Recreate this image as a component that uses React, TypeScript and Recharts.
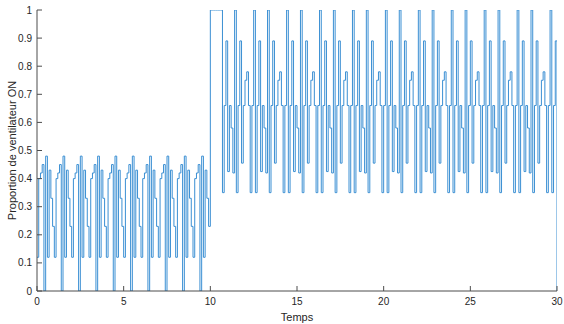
import React from 'react';
import { LineChart, Line, XAxis, YAxis } from 'recharts';

// Sampling step of the signal (time units)
const DT = 0.1;

const xTicks = [0, 5, 10, 15, 20, 25, 30];
const yTicks = [0, 0.1, 0.2, 0.3, 0.4, 0.5, 0.6, 0.7, 0.8, 0.9, 1];
const yTickLabels = ['0', '0.1', '0.2', '0.3', '0.4', '0.5', '0.6', '0.7', '0.8', '0.9', '1'];

// t = 0 .. 9.9 (period of 1)
const phase1Values = [
  0.12, 0.4, 0.42, 0.45, 0, 0.48, 0.12, 0.43, 0.33, 0.23,
  0.12, 0.4, 0.42, 0.45, 0, 0.48, 0.12, 0.43, 0.33, 0.23,
  0.12, 0.4, 0.42, 0.45, 0, 0.48, 0.12, 0.43, 0.33, 0.23,
  0.12, 0.4, 0.42, 0.45, 0, 0.48, 0.12, 0.43, 0.33, 0.23,
  0.12, 0.4, 0.42, 0.45, 0, 0.48, 0.12, 0.43, 0.33, 0.23,
  0.12, 0.4, 0.42, 0.45, 0, 0.48, 0.12, 0.43, 0.33, 0.23,
  0.12, 0.4, 0.42, 0.45, 0, 0.48, 0.12, 0.43, 0.33, 0.23,
  0.12, 0.4, 0.42, 0.45, 0, 0.48, 0.12, 0.43, 0.33, 0.23,
  0.12, 0.4, 0.42, 0.45, 0, 0.48, 0.12, 0.43, 0.33, 0.23,
  0.12, 0.4, 0.42, 0.45, 0, 0.48, 0.12, 0.43, 0.33, 0.23,
];

// t = 10 .. 29.9 (period of 1.9)
const phase2Values = [
  1, 1, 1, 1, 1, 1, 1, 0.35, 0.66, 0.89, 0.425, 0.66, 0.58, 0.42,
  1, 0.35, 0.66, 0.89, 0.455, 0.66, 0.75, 0.78, 0.66, 0.35, 0.66, 1, 0.35, 0.66, 0.89, 0.425, 0.66, 0.58, 0.42,
  1, 0.35, 0.66, 0.89, 0.455, 0.66, 0.75, 0.78, 0.66, 0.35, 0.66, 1, 0.35, 0.66, 0.89, 0.425, 0.66, 0.58, 0.42,
  1, 0.35, 0.66, 0.89, 0.455, 0.66, 0.75, 0.78, 0.66, 0.35, 0.66, 1, 0.35, 0.66, 0.89, 0.425, 0.66, 0.58, 0.42,
  1, 0.35, 0.66, 0.89, 0.455, 0.66, 0.75, 0.78, 0.66, 0.35, 0.66, 1, 0.35, 0.66, 0.89, 0.425, 0.66, 0.58, 0.42,
  1, 0.35, 0.66, 0.89, 0.455, 0.66, 0.75, 0.78, 0.66, 0.35, 0.66, 1, 0.35, 0.66, 0.89, 0.425, 0.66, 0.58, 0.42,
  1, 0.35, 0.66, 0.89, 0.455, 0.66, 0.75, 0.78, 0.66, 0.35, 0.66, 1, 0.35, 0.66, 0.89, 0.425, 0.66, 0.58, 0.42,
  1, 0.35, 0.66, 0.89, 0.455, 0.66, 0.75, 0.78, 0.66, 0.35, 0.66, 1, 0.35, 0.66, 0.89, 0.425, 0.66, 0.58, 0.42,
  1, 0.35, 0.66, 0.89, 0.455, 0.66, 0.75, 0.78, 0.66, 0.35, 0.66, 1, 0.35, 0.66, 0.89, 0.425, 0.66, 0.58, 0.42,
  1, 0.35, 0.66, 0.89, 0.455, 0.66, 0.75, 0.78, 0.66, 0.35, 0.66, 1, 0.35, 0.66, 0.89, 0.425, 0.66, 0.58, 0.42,
  1, 0.35, 0.66, 0.89, 0.455, 0.66, 0.75, 0.78, 0.66, 0.35, 0.66, 1, 0.35, 0.66, 0.89,
];

const endTime = 30;
const endValue = 0;

const data = [...phase1Values, ...phase2Values].map((v, i) => ({
  t: Math.round(i * DT * 10) / 10,
  v,
}));
data.push({ t: endTime, v: endValue });

const AXIS = '#4d4d4d';
const TEXT = '#262626';
const FONT = '"Liberation Sans", Arial, Helvetica, sans-serif';
const LINE = '#3a8fd3';

const BottomTick = (props: any) => {
  const { x, y, payload } = props;
  return (
    <g>
      <line x1={x} x2={x} y1={y} y2={y - 5} stroke={AXIS} strokeWidth={1} />
      <text x={x} y={y + 14} textAnchor="middle" fontSize={10} fill={TEXT} fontFamily={FONT}>
        {payload.value}
      </text>
    </g>
  );
};

const TopTick = (props: any) => {
  const { x, y } = props;
  return <line x1={x} x2={x} y1={y} y2={y + 5} stroke={AXIS} strokeWidth={1} />;
};

const LeftTick = (props: any) => {
  const { x, y, payload, index } = props;
  const label = yTickLabels[index] ?? String(payload.value);
  return (
    <g>
      <line x1={x} x2={x + 5} y1={y} y2={y} stroke={AXIS} strokeWidth={1} />
      <text x={x - 5} y={y + 3.5} textAnchor="end" fontSize={10} fill={TEXT} fontFamily={FONT}>
        {label}
      </text>
    </g>
  );
};

const RightTick = (props: any) => {
  const { x, y } = props;
  return <line x1={x} x2={x - 5} y1={y} y2={y} stroke={AXIS} strokeWidth={1} />;
};

const YLabel = (props: any) => {
  const vb = props.viewBox || {};
  const cx = 12;
  const cy = (vb.y ?? 10) + (vb.height ?? 281) / 2;
  return (
    <text
      x={cx}
      y={cy}
      transform={`rotate(-90, ${cx}, ${cy})`}
      textAnchor="middle"
      dominantBaseline="central"
      fontSize={11}
      fill={TEXT}
      fontFamily={FONT}
    >
      Proportion de ventilateur ON
    </text>
  );
};

const XLabel = (props: any) => {
  const vb = props.viewBox || {};
  const cx = (vb.x ?? 37) + (vb.width ?? 520) / 2;
  return (
    <text x={cx} y={321} textAnchor="middle" fontSize={11} fill={TEXT} fontFamily={FONT}>
      Temps
    </text>
  );
};

export default function App() {
  return (
    <div style={{ position: 'absolute', left: 0, top: 0 }}>
      <LineChart width={564} height={324} data={data} margin={{ top: 10, right: 7, bottom: 0, left: 0 }}>
        <XAxis
          dataKey="t"
          type="number"
          domain={[0, 30]}
          ticks={xTicks}
          interval={0}
          height={33}
          tickSize={0}
          tickMargin={0}
          tickLine={false}
          axisLine={{ stroke: AXIS }}
          tick={BottomTick}
          label={{ content: XLabel }}
          allowDataOverflow
        />
        <XAxis
          xAxisId="top"
          orientation="top"
          dataKey="t"
          type="number"
          domain={[0, 30]}
          ticks={xTicks}
          interval={0}
          height={0}
          tickSize={0}
          tickMargin={0}
          tickLine={false}
          axisLine={{ stroke: AXIS }}
          tick={TopTick}
          allowDataOverflow
        />
        <YAxis
          type="number"
          domain={[0, 1]}
          ticks={yTicks}
          interval={0}
          width={37}
          tickSize={0}
          tickMargin={0}
          tickLine={false}
          axisLine={{ stroke: AXIS }}
          tick={LeftTick}
          label={{ content: YLabel }}
          allowDataOverflow
        />
        <YAxis
          yAxisId="right"
          orientation="right"
          type="number"
          domain={[0, 1]}
          ticks={yTicks}
          interval={0}
          width={0}
          tickSize={0}
          tickMargin={0}
          tickLine={false}
          axisLine={{ stroke: AXIS }}
          tick={RightTick}
          allowDataOverflow
        />
        <Line
          type="stepAfter"
          dataKey="v"
          stroke={LINE}
          strokeWidth={1}
          dot={false}
          activeDot={false}
          isAnimationActive={false}
        />
      </LineChart>
    </div>
  );
}
